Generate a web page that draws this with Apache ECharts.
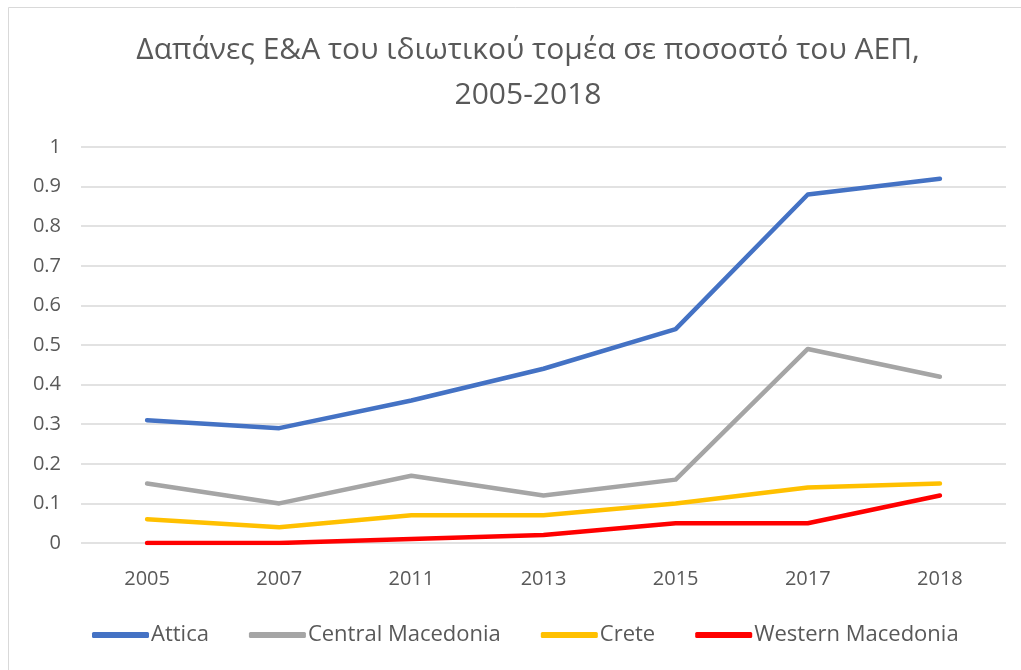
<!DOCTYPE html>
<html>
<head>
<meta charset="utf-8">
<script src="https://cdn.jsdelivr.net/npm/echarts@6/dist/echarts.min.js"></script>
<style>
  html, body { margin: 0; padding: 0; background: #fff; }
  #main { width: 1021px; height: 670px; }
</style>
</head>
<body>
<div id="main"></div>
<script>
const years = ['2005', '2007', '2011', '2013', '2015', '2017', '2018'];
const attica = [0.31, 0.29, 0.36, 0.44, 0.54, 0.88, 0.92];
const centralMacedonia = [0.15, 0.10, 0.17, 0.12, 0.16, 0.49, 0.42];
const crete = [0.06, 0.04, 0.07, 0.07, 0.10, 0.14, 0.15];
const westernMacedonia = [0, 0, 0.01, 0.02, 0.05, 0.05, 0.12];

const fontFamily = '"Open Sans", "Noto Sans", sans-serif';
const textColor = '#595959';

const chart = echarts.init(document.getElementById('main'), null, { renderer: 'canvas' });

const makeLine = (name, data, color) => ({
  name: name,
  type: 'line',
  data: data,
  showSymbol: false,
  symbol: 'none',
  lineStyle: { width: 4.5, color: color, cap: 'round', join: 'round' },
  itemStyle: { color: color },
  animation: false
});

const option = {
  backgroundColor: '#fff',
  title: {
    text: 'Δαπάνες Ε&Α του ιδιωτικού τομέα σε ποσοστό του ΑΕΠ,\n2005-2018',
    left: 523,
    top: 23,
    textAlign: 'center',
    textStyle: {
      fontFamily: fontFamily,
      fontSize: 30,
      fontWeight: 'normal',
      color: textColor,
      lineHeight: 45
    }
  },
  graphic: [{
    type: 'rect',
    shape: { x: 8.5, y: 7.5, width: 1100, height: 1000 },
    style: { fill: 'none', stroke: '#d9d9d9', lineWidth: 1 },
    silent: true
  }],
  grid: { left: 81, right: 15, top: 147, bottom: 127 },
  legend: {
    bottom: 19,
    left: 87,
    itemWidth: 57,
    itemHeight: 6,
    itemGap: 40,
    icon: 'roundRect',
    textStyle: { fontFamily: fontFamily, fontSize: 22, color: textColor, padding: [0, 0, 0, -3] },
    data: ['Attica', 'Central Macedonia', 'Crete', 'Western Macedonia']
  },
  xAxis: {
    type: 'category',
    data: years,
    boundaryGap: true,
    axisLine: { show: false },
    axisTick: { show: false },
    axisLabel: { fontFamily: fontFamily, fontSize: 20, color: textColor, margin: 26 }
  },
  yAxis: {
    type: 'value',
    min: 0,
    max: 1,
    interval: 0.1,
    axisLine: { show: false },
    axisTick: { show: false },
    axisLabel: { fontFamily: fontFamily, fontSize: 20, color: textColor, margin: 20 },
    splitLine: { lineStyle: { color: '#d9d9d9', width: 1.5 } }
  },
  series: [
    makeLine('Attica', attica, '#4472c4'),
    makeLine('Central Macedonia', centralMacedonia, '#a5a5a5'),
    makeLine('Crete', crete, '#ffc000'),
    makeLine('Western Macedonia', westernMacedonia, '#ff0000')
  ]
};

chart.setOption(option);
</script>
</body>
</html>
